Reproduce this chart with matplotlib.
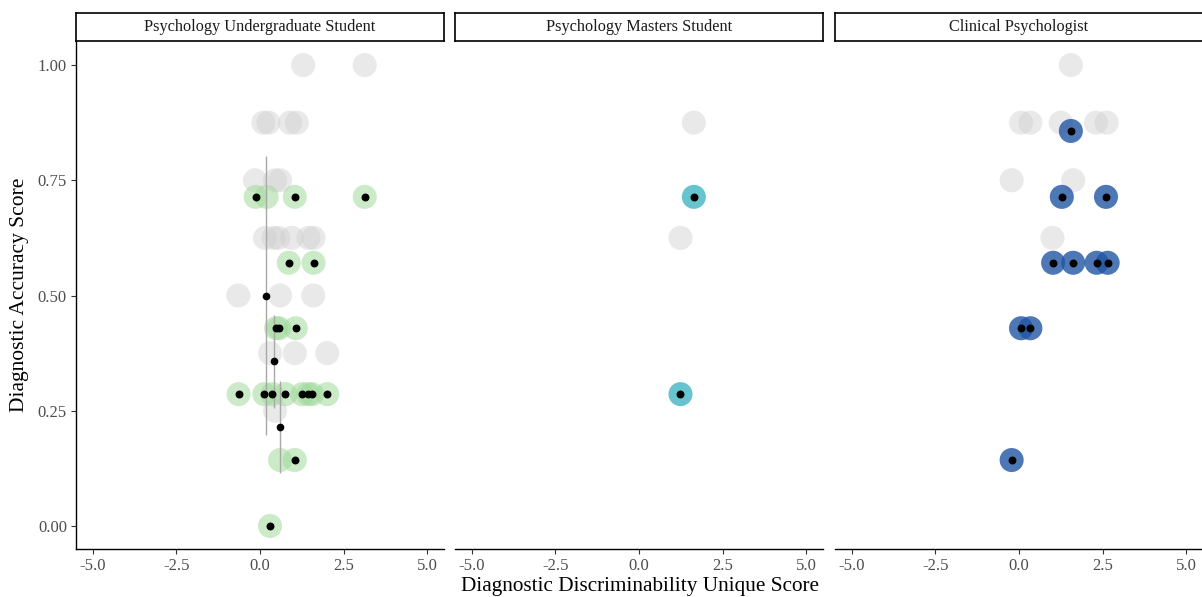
import matplotlib.pyplot as plt

plt.rcParams['font.family'] = ['Liberation Serif', 'DejaVu Serif']

panel_titles = ["Psychology Undergraduate Student", "Psychology Masters Student", "Clinical Psychologist"]

# grey background points: (unique score, accuracy score)
grey_x = [
    [1.29, 3.13, 0.1, 0.25, 0.9, 1.1, -0.15, 0.45, 0.6,
     0.15, 0.4, 0.55, 0.95, 1.45, 1.6, -0.65, 0.6, 1.59,
     0.3, 1.04, 2.01, 0.45],
    [1.64, 1.24],
    [1.55, 0.06, 0.34, 1.25, 2.3, 2.62, -0.22, 1.62, 1.0],
]
grey_y = [
    [1.0, 1.0, 0.875, 0.875, 0.875, 0.875, 0.75, 0.75, 0.75,
     0.625, 0.625, 0.625, 0.625, 0.625, 0.625, 0.5, 0.5, 0.5,
     0.375, 0.375, 0.375, 0.25],
    [0.875, 0.625],
    [1.0, 0.875, 0.875, 0.875, 0.875, 0.875, 0.75, 0.75, 0.625],
]

# highlighted group points
group_x = [
    [-0.13, 1.04, 3.13, 0.86, 1.6, 0.48, 0.57, 1.07,
     -0.64, 0.13, 0.37, 0.76, 1.26, 1.44, 1.56, 2.01, 1.04, 0.3],
    [1.64, 1.24],
    [1.55, 1.28, 2.6, 1.02, 1.62, 2.32, 2.65, 0.06, 0.34, -0.22],
]
group_y = [
    [0.714, 0.714, 0.714, 0.571, 0.571, 0.429, 0.429, 0.429,
     0.286, 0.286, 0.286, 0.286, 0.286, 0.286, 0.286, 0.286, 0.143, 0.0],
    [0.714, 0.286],
    [0.857, 0.714, 0.714, 0.571, 0.571, 0.571, 0.571, 0.429, 0.429, 0.143],
]
# extra undergraduate circles with no centre dot
extra_x = [0.2, 0.6]
extra_y = [0.714, 0.143]

# group means with spread (undergraduate panel)
mean_x = [0.19, 0.43, 0.6]
mean_y = [0.5, 0.357, 0.214]
mean_err = [0.303, 0.1, 0.1]

group_colors = ["#a1d99b", "#41b6c4", "#2255a4"]
group_alpha = [0.55, 0.8, 0.8]

fig = plt.figure(figsize=(12.02, 5.97), dpi=100)

lefts = [76, 455, 835]
width = 368
bottom = 1 - 549 / 597
height = (549 - 42) / 597
strip_h = 28 / 597

axes = []
for i in range(3):
    ax = fig.add_axes([lefts[i] / 1202, bottom, width / 1202, height])
    axes.append(ax)

    ax.scatter(grey_x[i], grey_y[i], s=300, color="#cfcfcf", alpha=0.45,
               edgecolors="none", zorder=2)
    if i == 0:
        ax.scatter(extra_x, extra_y, s=300, color=group_colors[i],
                   alpha=group_alpha[i], edgecolors="none", zorder=3)
    ax.scatter(group_x[i], group_y[i], s=300, color=group_colors[i],
               alpha=group_alpha[i], edgecolors="none", zorder=3)
    ax.scatter(group_x[i], group_y[i], s=22, color="black", zorder=5)

    if i == 0:
        ax.errorbar(mean_x, mean_y, yerr=mean_err, fmt="o", color="black",
                    ms=4.5, ecolor="#a8a8a8", elinewidth=1.0, capsize=0, zorder=4)

    ax.set_xlim(-5.5, 5.5)
    ax.set_ylim(-0.05, 1.05)
    ax.set_xticks([-5, -2.5, 0, 2.5, 5])
    ax.set_xticklabels(["-5.0", "-2.5", "0.0", "2.5", "5.0"])
    ax.set_yticks([0, 0.25, 0.5, 0.75, 1.0])
    ax.set_yticklabels(["0.00", "0.25", "0.50", "0.75", "1.00"])
    ax.tick_params(labelsize=12, labelcolor="#4d4d4d", length=3.5,
                   width=0.8, color="#333333", pad=3)
    for side in ["top", "right"]:
        ax.spines[side].set_visible(False)
    ax.spines["bottom"].set_linewidth(1.0)
    ax.spines["left"].set_linewidth(1.0)
    if i > 0:
        ax.spines["left"].set_visible(False)
        ax.tick_params(axis="y", left=False, labelleft=False)

    # facet strip
    sax = fig.add_axes([lefts[i] / 1202, 1 - 41 / 597, width / 1202, strip_h])
    sax.set_xticks([])
    sax.set_yticks([])
    for sp in sax.spines.values():
        sp.set_linewidth(1.2)
        sp.set_color("black")
    sax.text(0.5, 0.5, panel_titles[i], ha="center", va="center",
             fontsize=11.7, color="#1a1a1a", transform=sax.transAxes)

fig.text(640 / 1202, 1 - 587 / 597, "Diagnostic Discriminability Unique Score",
         ha="center", va="center", fontsize=15.3)
fig.text(20 / 1202, 1 - 295 / 597, "Diagnostic Accuracy Score",
         ha="center", va="center", rotation=90, fontsize=15.5)

fig.savefig("out.png", dpi=100)
